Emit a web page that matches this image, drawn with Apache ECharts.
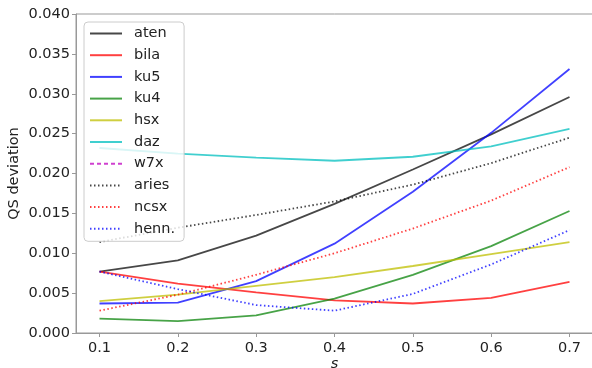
<!DOCTYPE html>
<html>
<head>
<meta charset="utf-8">
<script src="https://cdn.jsdelivr.net/npm/echarts@6/dist/echarts.min.js"></script>
<style>
  html, body { margin: 0; padding: 0; background: #fff; }
  #chart { width: 592px; height: 368px; }
</style>
</head>
<body>
<div id="chart"></div>
<script>
const sValues = [0.1, 0.2, 0.3, 0.4, 0.5, 0.6, 0.7];
const yTicks = [0, 0.005, 0.01, 0.015, 0.02, 0.025, 0.03, 0.035, 0.04];

const aten = [0.0077, 0.0091, 0.0122, 0.0162, 0.0205, 0.0249, 0.0296];
const bila = [0.0077, 0.0062, 0.0051, 0.0041, 0.0037, 0.0044, 0.0064];
const ku5 = [0.0037, 0.0038, 0.0065, 0.0112, 0.0177, 0.0251, 0.0331];
const ku4 = [0.0018, 0.0015, 0.0022, 0.0043, 0.0073, 0.0109, 0.0153];
const hsx = [0.0040, 0.0048, 0.0059, 0.0070, 0.0084, 0.0099, 0.0114];
const daz = [0.0232, 0.0225, 0.0220, 0.0216, 0.0221, 0.0234, 0.0256];
const w7x = [];
const aries = [0.0114, 0.0132, 0.0148, 0.0165, 0.0186, 0.0213, 0.0245];
const ncsx = [0.0028, 0.0048, 0.0073, 0.0100, 0.0131, 0.0166, 0.0208];
const henn = [0.0077, 0.0055, 0.0035, 0.0028, 0.0049, 0.0086, 0.0129];

const chart = echarts.init(document.getElementById("chart"));

function pairs(vals) {
  return vals.map((v, i) => [sValues[i], v]);
}

function line(name, vals, color, type) {
  return {
    name: name,
    type: "line",
    data: pairs(vals),
    symbol: "none",
    color: color,
    lineStyle: { color: color, width: 1.8, type: type || "solid" },
    z: 2,
  };
}

const font = "DejaVu Sans";

chart.setOption({
  animation: false,
  textStyle: { fontFamily: font },
  grid: {
    left: 76,
    top: 14,
    width: 517,
    height: 319,
    outerBoundsMode: "none",
    containLabel: false,
    show: true,
    borderColor: "#999",
    borderWidth: 1,
  },
  legend: {
    orient: "vertical",
    left: 84,
    top: 22,
    itemWidth: 32,
    itemHeight: 14,
    itemGap: 6.7,
    padding: [4, 9, 5, 5],
    backgroundColor: "rgba(255,255,255,0.8)",
    borderColor: "#ccc",
    borderWidth: 1,
    borderRadius: 4,
    itemStyle: { opacity: 0 },
    textStyle: { fontFamily: font, fontSize: 14.5, color: "#222", padding: [0, 0, 0, 7] },
    data: ["aten", "bila", "ku5", "ku4", "hsx", "daz", "w7x", "aries", "ncsx", "henn."],
  },
  xAxis: {
    type: "value",
    min: 0.07,
    max: 0.73,
    name: "s",
    nameLocation: "middle",
    nameGap: 24,
    nameMoveOverlap: false,
    nameTextStyle: { fontFamily: font, fontSize: 14.5, fontStyle: "italic", color: "#222" },
    axisLine: { lineStyle: { color: "#999" } },
    axisTick: { show: true, length: 4, lineStyle: { color: "#999" }, customValues: sValues },
    axisLabel: {
      fontFamily: font,
      fontSize: 14.5,
      color: "#222",
      margin: 8,
      customValues: sValues,
      formatter: (v) => v.toFixed(1),
    },
    splitLine: { show: false },
  },
  yAxis: {
    type: "value",
    min: 0,
    max: 0.04,
    interval: 0.005,
    name: "QS deviation",
    nameLocation: "middle",
    nameGap: 54,
    nameMoveOverlap: false,
    nameTextStyle: { fontFamily: font, fontSize: 14.5, color: "#222" },
    axisLine: { show: true, lineStyle: { color: "#999" } },
    axisTick: { show: true, length: 4, lineStyle: { color: "#999" } },
    axisLabel: {
      fontFamily: font,
      fontSize: 14.5,
      color: "#222",
      margin: 6,
      customValues: yTicks,
      formatter: (v) => v.toFixed(3),
    },
    splitLine: { show: false },
  },
  series: [
    line("aten", aten, "rgba(0,0,0,0.72)"),
    line("bila", bila, "rgba(255,0,0,0.75)"),
    line("ku5", ku5, "rgba(0,0,255,0.75)"),
    line("ku4", ku4, "rgba(0,128,0,0.72)"),
    line("hsx", hsx, "rgba(191,191,0,0.75)"),
    line("daz", daz, "rgba(0,191,191,0.75)"),
    line("w7x", w7x, "rgba(191,0,191,0.75)", [4, 3]),
    line("aries", aries, "rgba(0,0,0,0.72)", [1.5, 2.5]),
    line("ncsx", ncsx, "rgba(255,0,0,0.75)", [1.5, 2.5]),
    line("henn.", henn, "rgba(0,0,255,0.75)", [1.5, 2.5]),
  ],
});
</script>
</body>
</html>
